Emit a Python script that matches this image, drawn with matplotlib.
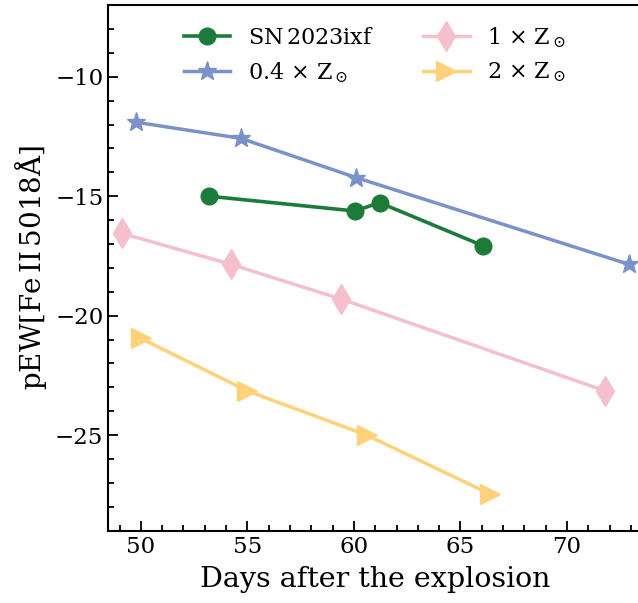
import matplotlib
matplotlib.use("Agg")
import matplotlib.pyplot as plt
from matplotlib.ticker import MultipleLocator

plt.rcParams['font.family'] = 'DejaVu Serif'
plt.rcParams['mathtext.fontset'] = 'dejavuserif'

# pEW of Fe II 5018 vs. epoch, SN 2023ixf and model spectra
sn_days = [53.2, 60.05, 61.2, 66.05]
sn_pew = [-15.0, -15.62, -15.27, -17.07]

z04_days = [49.75, 54.7, 60.1, 72.9]
z04_pew = [-11.9, -12.58, -14.22, -17.85]

z1_days = [49.1, 54.22, 59.38, 71.8]
z1_pew = [-16.55, -17.85, -19.3, -23.15]

z2_days = [50.0, 55.0, 60.6, 66.4]
z2_pew = [-20.95, -23.15, -25.0, -27.47]

fig = plt.figure(figsize=(6.38, 6.03), dpi=100)
ax = fig.add_axes([0.1697, 0.1199, 0.8359, 0.8717])

ax.plot(z04_days, z04_pew, color='#7a91c9', lw=2.5, marker='*', ms=14,
        label=r'0.4 $\times$ Z$_\odot$', zorder=2)
ax.plot(z1_days, z1_pew, color='#f5bfcd', lw=2.5, marker='d', ms=15,
        label=r'1 $\times$ Z$_\odot$', zorder=2)
ax.plot(z2_days, z2_pew, color='#fdd27b', lw=2.5, marker='>', ms=15,
        label=r'2 $\times$ Z$_\odot$', zorder=2)
ax.plot(sn_days, sn_pew, color='#1d7b3a', lw=2.6, marker='o', ms=12,
        label=r'SN$\,$2023ixf', zorder=3)

ax.set_xlim(48.47, 73.5)
ax.set_ylim(-29, -7)

ax.xaxis.set_major_locator(MultipleLocator(5))
ax.xaxis.set_minor_locator(MultipleLocator(1))
ax.yaxis.set_major_locator(MultipleLocator(5))
ax.yaxis.set_minor_locator(MultipleLocator(1))
ax.tick_params(which='both', direction='in', top=False, right=False,
               labelsize=16.5, width=1.3)
ax.tick_params(which='major', length=7)
ax.tick_params(which='minor', length=4)
for s in ax.spines.values():
    s.set_linewidth(1.5)

ax.set_xlabel('Days after the explosion', fontsize=20.5, labelpad=6)
ax.set_ylabel(r'pEW[Fe$\,$II$\,$5018$\mathrm{\AA}$]', fontsize=20)

h, l = ax.get_legend_handles_labels()
order = [3, 0, 1, 2]
ax.legend([h[i] for i in order], [l[i] for i in order], ncol=2,
          loc='upper center', bbox_to_anchor=(0.5, 1.0), frameon=False,
          fontsize=16, columnspacing=2.2, handlelength=2.1)

fig.savefig('out.png', dpi=100)
